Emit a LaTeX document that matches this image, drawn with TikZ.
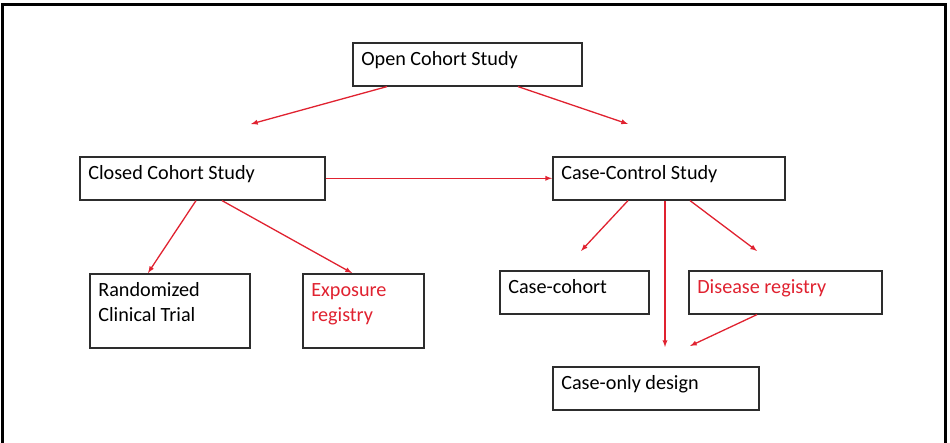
\documentclass[tikz,border=0pt]{standalone}
\usepackage{fontspec}
\setmainfont{Carlito}
\usetikzlibrary{calc}
\definecolor{flowred}{RGB}{224,34,48}
\definecolor{boxgray}{RGB}{45,45,45}
\tikzset{
  studybox/.style={draw=boxgray, line width=1.6pt, anchor=north west, align=left,
    inner xsep=8.5pt, inner ysep=0pt, text height=23pt,
    font=\fontsize{20.2}{25}\selectfont,
    execute at begin node={\spaceskip=4.5pt\relax}},
  onerow/.style={text depth=20pt},
  tworow/.style={text depth=51pt},
  flow/.style={draw=flowred, line width=1.3pt, -latex}
}

\begin{document}
\begin{tikzpicture}[x=1pt, y=-1pt]
  \useasboundingbox (0,0) rectangle (950,443);
  \draw[line width=3pt] (2.5,480) -- (2.5,4.5) -- (945.5,4.5) -- (945.5,480);

  \node[studybox, onerow, text width=212pt] (open) at (352,42) {Open Cohort Study};
  \node[studybox, onerow, text width=228pt] (closed) at (79,156) {Closed Cohort Study};
  \node[studybox, onerow, text width=215pt] (cc) at (552,156) {Case-Control Study};

  \node[studybox, tworow, text width=143pt] (rct) at (89,273) {Randomized\\Clinical Trial};
  \node[studybox, tworow, text width=104pt, text=flowred] (expo) at (302,273) {Exposure\\registry};
  \node[studybox, onerow, text width=132pt] (ccoh) at (499,270) {Case-cohort};
  \node[studybox, onerow, text width=176pt, text=flowred] (dreg) at (688,270) {Disease registry};
  \node[studybox, onerow, text width=189pt] (conly) at (552,366) {Case-only design};

  \coordinate (openl) at (251,124);
  \coordinate (openr) at (628,124);
  \coordinate (ccohtop) at (581,251);
  \coordinate (dregtop) at (757,251);
  \coordinate (conlytop) at (665,347);
  \coordinate (conlyright) at (690,346);

  \draw[flow] ([xshift=35pt]open.south west) -- (openl);
  \draw[flow] ([xshift=166pt]open.south west) -- (openr);

  \draw[flow] (closed.east) -- (cc.west);
  \draw[flow] ([xshift=117pt]closed.south west) -- ([xshift=59pt]rct.north west);
  \draw[flow] ([xshift=143pt]closed.south west) -- ([xshift=50pt]expo.north west);

  \draw[flow] ([xshift=76pt]cc.south west) -- (ccohtop);
  \draw[flow] ([xshift=113pt]cc.south west) -- (conlytop);
  \draw[flow] ([xshift=138pt]cc.south west) -- (dregtop);

  \draw[flow] ([xshift=69pt]dreg.south west) -- (conlyright);
\end{tikzpicture}
\end{document}
